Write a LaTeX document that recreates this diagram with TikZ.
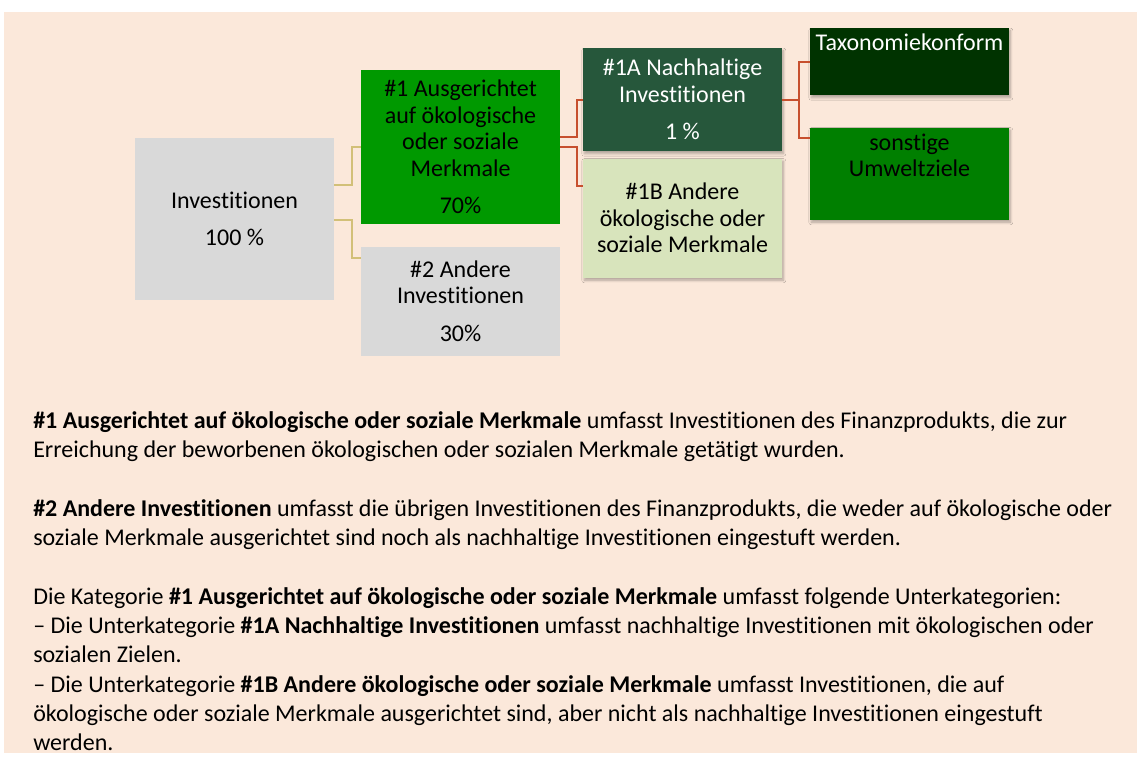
\documentclass[tikz,border=0pt]{standalone}
\usepackage{fontspec}
\setmainfont{Carlito}[Ligatures=NoCommon]
\usetikzlibrary{positioning}
\usetikzlibrary{shadows.blur}
\definecolor{bgPeach}{RGB}{251,232,218}
\definecolor{boxGrey}{RGB}{217,217,217}
\definecolor{mainGreen}{RGB}{0,153,0}
\definecolor{darkGreen}{RGB}{38,87,59}
\definecolor{paleGreen}{RGB}{216,228,188}
\definecolor{taxGreen}{RGB}{0,51,0}
\definecolor{otherGreen}{RGB}{0,127,0}
\definecolor{tanLine}{RGB}{210,192,120}
\definecolor{redLine}{RGB}{199,80,46}

\begin{document}
\begin{tikzpicture}[x=0.75pt,y=-0.75pt,node distance=5.25pt,
  box/.style={minimum width=149.25pt,inner sep=0pt,align=center,
  font=\fontsize{18}{20}\selectfont},
  shadowed/.style={blur shadow={shadow xshift=1pt,shadow yshift=-2pt,
  shadow blur steps=6,shadow opacity=30}},
  top text/.style={anchor=north,yshift=-1.2pt,align=center,font=\fontsize{18}{20}\selectfont},
  tan link/.style={draw=tanLine,line width=1.5pt},
  red link/.style={draw=redLine,line width=1.5pt},
  notes/.style={align=left,inner sep=0pt,font=\fontsize{18}{22}\selectfont}]
\useasboundingbox (0,0) rectangle (1137,758);
\fill[bgPeach] (4,12) rectangle (1137,753);
%------------------------------------------------------------------------
% The boxes
%------------------------------------------------------------------------
\node[box,fill=boxGrey,minimum height=121.5pt] (inv) at (234.5,219)
  {Investitionen\\[8pt]100 \%};
\node[box,fill=mainGreen,minimum height=115.5pt] (one) at (460.5,147)
  {\#1 Ausgerichtet\\auf ökologische\\oder soziale\\Merkmale\\[8pt]70\%};
\node[box,fill=boxGrey,minimum height=81.75pt] (two) [below=16.5pt of one]
  {\#2 Andere\\Investitionen\\[8pt]30\%};
\node[box,shadowed,fill=darkGreen,text=white,minimum height=77.25pt] (oneA) at (682.5,99.5)
  {\#1A Nachhaltige\\Investitionen\\[8pt]1 \%};
\node[box,shadowed,fill=paleGreen,minimum height=89.25pt] (oneB) [below=of oneA]
  {\#1B Andere\\ökologische oder\\soziale Merkmale};
\node[box,shadowed,fill=taxGreen,minimum height=50.25pt,
  label={[top text,text=white]north:Taxonomiekonform}] (tax) at (909.5,61.5) {};
\node[box,shadowed,fill=otherGreen,minimum height=69pt,
  label={[top text]north:sonstige\\Umweltziele}] (env) [below=24pt of tax] {};
%------------------------------------------------------------------------
% The links
%------------------------------------------------------------------------
\draw[tan link] (inv.east) ++(0,-34) -- ++(18,0) |- (one.west);% to #1
\draw[tan link] (inv.east) ++(0,1) -- ++(18,0) |- ([yshift=32pt]two.west);% to #2
\draw[red link] (one.east) ++(0,-10) -- ++(17,0) |- (oneA.west);% to #1A
\draw[red link] (one.east) -- ++(17,0) |- ([yshift=24pt]oneB.west);% to #1B
\draw[red link] (oneA.east) -- ++(17,0) |- (tax.west);% taxonomy
\draw[red link] (oneA.east) -- ++(17,0) |- ([yshift=27pt]env.west);% other goals
%------------------------------------------------------------------------
% The notes
%------------------------------------------------------------------------
\node[notes,anchor=north west] (text) at (33,411) {%
\textbf{\#1 Ausgerichtet auf ökologische oder soziale Merkmale} umfasst Investitionen des Finanzprodukts, die zur\\
Erreichung der beworbenen ökologischen oder sozialen Merkmale getätigt wurden.\\[22pt]
\textbf{\#2 Andere Investitionen} umfasst die übrigen Investitionen des Finanzprodukts, die weder auf ökologische oder\\
soziale Merkmale ausgerichtet sind noch als nachhaltige Investitionen eingestuft werden.\\[22pt]
Die Kategorie \textbf{\#1 Ausgerichtet auf ökologische oder soziale Merkmale} umfasst folgende Unterkategorien:\\
– Die Unterkategorie \textbf{\#1A Nachhaltige Investitionen} umfasst nachhaltige Investitionen mit ökologischen oder\\
sozialen Zielen.\\
– Die Unterkategorie \textbf{\#1B Andere ökologische oder soziale Merkmale} umfasst Investitionen, die auf\\
ökologische oder soziale Merkmale ausgerichtet sind, aber nicht als nachhaltige Investitionen eingestuft\\
werden.};
\end{tikzpicture}
\end{document}
